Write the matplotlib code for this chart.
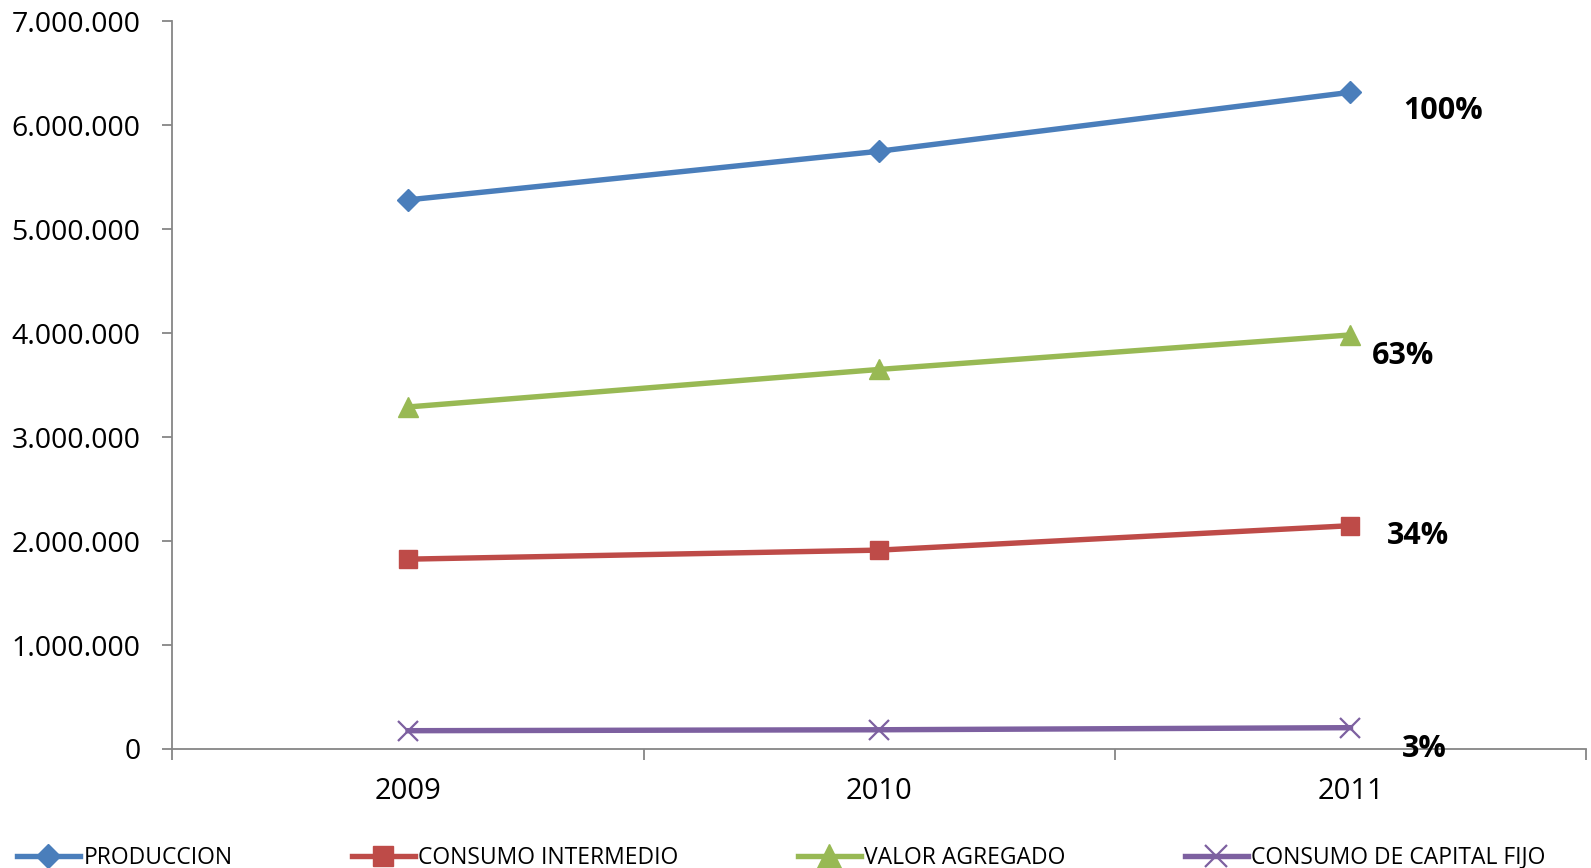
import matplotlib
matplotlib.use("Agg")
from matplotlib import pyplot as plt
from matplotlib.ticker import FuncFormatter, FixedLocator

# data
years = ["2009", "2010", "2011"]
produccion = [5282000, 5750000, 6317000]
consumo_intermedio = [1826000, 1913000, 2148000]
valor_agregado = [3290000, 3651000, 3983000]
consumo_capital_fijo = [176000, 185000, 205000]

series_names = ["PRODUCCION", "CONSUMO INTERMEDIO", "VALOR AGREGADO", "CONSUMO DE CAPITAL FIJO"]
share_labels = ["100%", "34%", "63%", "3%"]

FONT = ["Open Sans", "DejaVu Sans"]


def thousands(value, pos):
    return "{:,.0f}".format(value).replace(",", ".")


def main():
    fig = plt.figure(figsize=(15.91, 8.68), dpi=100)
    ax = fig.add_axes([0.1084, 0.1371, 0.8885, 0.8384])

    x = list(range(len(years)))
    styles = [
        dict(color="#4A7EBB", marker="D", markersize=11),
        dict(color="#BE4B48", marker="s", markersize=13),
        dict(color="#98B954", marker="^", markersize=15),
        dict(color="#7D60A0", marker="x", markersize=14, markeredgewidth=1.6),
    ]
    # pixel offsets of the percentage labels from the last point
    label_offsets = [(93, -19), (68, -10), (53, -21), (74, -21)]

    all_series = [produccion, consumo_intermedio, valor_agregado, consumo_capital_fijo]
    for values, name, style, label, off in zip(all_series, series_names, styles, share_labels, label_offsets):
        ax.plot(x, values, linewidth=3.9, label=name, **style)
        ax.annotate(label, (x[-1], values[-1]), xytext=(off[0] * 0.72, off[1] * 0.72),
                    textcoords="offset points", ha="center", va="center",
                    fontsize=22, fontweight="bold", family=FONT, zorder=5)

    ax.set_xlim(-0.5, len(years) - 0.5)
    ax.set_ylim(0, 7000000)
    ax.yaxis.set_major_locator(FixedLocator(range(0, 7000001, 1000000)))
    ax.yaxis.set_major_formatter(FuncFormatter(thousands))

    ax.set_xticks(x)
    ax.set_xticklabels(years, family=FONT, fontsize=21)
    ax.set_xticks([i - 0.5 for i in range(len(years) + 1)], minor=True)
    ax.tick_params(axis="x", which="major", length=0, pad=20)
    ax.tick_params(axis="x", which="minor", length=8, width=1.3, color="#868686", direction="out")
    ax.tick_params(axis="y", length=7, width=1.3, color="#868686", pad=16, labelsize=20.5)
    for lbl in ax.get_yticklabels():
        lbl.set_family(FONT)

    for side in ["top", "right"]:
        ax.spines[side].set_visible(False)
    for side in ["left", "bottom"]:
        ax.spines[side].set_color("#868686")
        ax.spines[side].set_linewidth(1.3)

    fig.legend(loc="center", bbox_to_anchor=(0.491, 0.012), ncol=4, frameon=False,
               prop={"family": FONT, "size": 16.5}, handlelength=2.75, handletextpad=0.15,
               columnspacing=5.2, borderaxespad=0, markerscale=1.15)

    fig.savefig("out.png", dpi=100)


if __name__ == "__main__":
    main()
